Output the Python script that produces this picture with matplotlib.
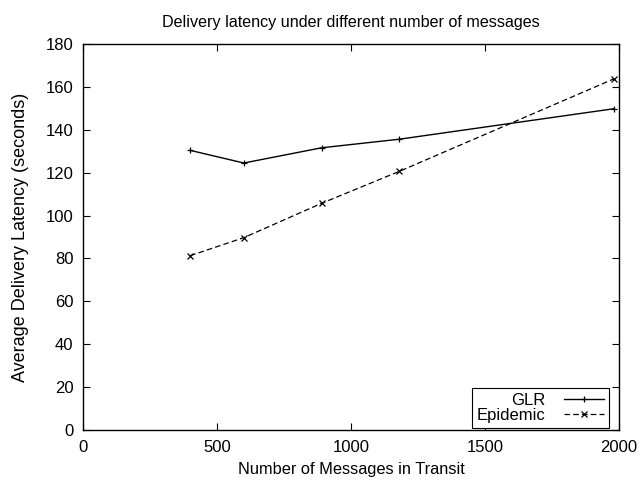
import matplotlib.pyplot as plt

plt.rcParams['font.family'] = ['Liberation Sans', 'DejaVu Sans']
plt.rcParams['font.size'] = 12

# data
messages = [400, 600, 890, 1180, 1980]
glr_latency = [130.4, 124.5, 131.6, 135.6, 149.8]
epidemic_latency = [81.3, 89.7, 105.7, 120.6, 163.7]

fig = plt.figure(figsize=(6.41, 4.83), dpi=100)
ax = fig.add_axes([0.1295, 0.1097, 0.8362, 0.7992])

ax.plot(messages, glr_latency, color='black', linewidth=1.0, marker='+',
        markersize=5, markeredgewidth=0.9, label='GLR')
ax.plot(messages, epidemic_latency, color='black', linewidth=0.9, marker='x',
        markersize=4, markeredgewidth=0.9, linestyle=(0, (4.5, 2.5)), label='Epidemic')

ax.set_xlim(0, 2000)
ax.set_ylim(0, 180)
ax.set_xticks([0, 500, 1000, 1500, 2000])
ax.set_yticks(range(0, 181, 20))
ax.tick_params(direction='in', top=True, right=True, length=5, width=0.8, pad=7)
for s in ax.spines.values():
    s.set_linewidth(1.0)

ax.set_title('Delivery latency under different number of messages', fontsize=11.6, pad=12)
ax.set_xlabel('Number of Messages in Transit', fontsize=11.8, labelpad=5)
ax.set_ylabel('Average Delivery Latency (seconds)', fontsize=13, labelpad=12)

leg = ax.legend(loc='lower right', bbox_to_anchor=(0.981, 0.006), borderaxespad=0,
                markerfirst=False, fancybox=False, edgecolor='black', framealpha=1,
                handlelength=2.4, borderpad=0.3, labelspacing=0.0, handletextpad=1.1,
                fontsize=12)
leg.get_frame().set_linewidth(0.8)
for t in leg.get_texts():
    t.set_ha('right')
leg._legend_box.align = 'right'

fig.savefig('out.png', dpi=100)
